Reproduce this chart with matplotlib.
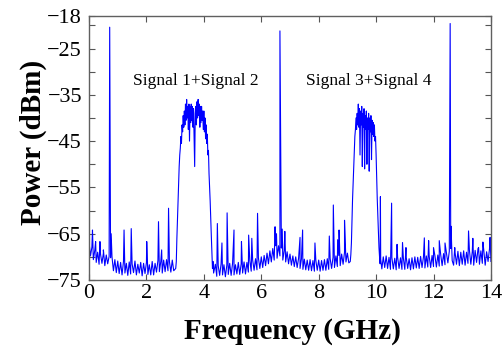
import numpy as np
import matplotlib
matplotlib.use("Agg")
import matplotlib.pyplot as plt

# ---------------- data ----------------
STEP_FLOOR = 0.05
STEP_SIG = 0.02

# noise floor segments (dBm), start frequency (GHz) and 0.05 GHz spacing
floor_a_start = 0.00
floor_a = [-66.8, -69.8, -67.9, -70.6, -68.6, -71.2, -69.0, -71.6, -69.4, -71.4,
           -69.2, -71.9, -69.6, -71.5, -69.9, -70.2, -70.0, -73.0, -70.6, -73.4,
           -70.9, -73.6, -71.2, -73.9, -71.0, -73.5, -71.4, -74.0, -71.1, -73.7,
           -71.5, -73.4, -70.9, -73.9, -71.6, -73.5, -71.2, -74.1, -71.4, -73.6,
           -71.2, -73.8, -71.7, -73.9, -71.0, -73.9, -71.4, -73.3, -70.8, -73.2,
           -71.0, -73.5, -70.7, -73.2, -70.6, -73.0, -71.0, -73.3, -70.7, -73.0]

floor_b_start = 4.40
floor_b = [-71.6, -74.2, -71.9, -74.0, -71.5, -73.9, -71.7, -74.3, -71.8, -73.8,
           -71.4, -74.0, -71.4, -73.9, -71.7, -73.7, -71.2, -73.8, -71.5, -73.5,
           -71.1, -73.7, -71.2, -73.3, -70.8, -73.1, -70.7, -72.9, -70.4, -72.8,
           -70.2, -72.5, -70.0, -72.3, -69.7, -71.9, -69.2, -71.5, -68.7, -71.1,
           -68.2, -70.7, -67.6, -70.3, -67.6, -69.8, -68.1, -70.7, -68.6, -71.1,
           -68.9, -71.5, -69.4, -71.8, -69.8, -72.1, -70.0, -72.3, -70.3, -72.5,
           -70.4, -72.7, -70.5, -72.8, -70.7, -72.9, -70.6, -73.0, -70.8, -73.1,
           -70.7, -72.9, -70.7, -73.1, -70.8, -72.9, -70.6, -72.9, -70.4, -72.7,
           -70.4, -72.5, -70.1, -72.3, -69.8, -72.1, -69.7, -71.9, -69.4, -71.6,
           -69.0, -71.1, -69.2, -71.3]

floor_c_start = 10.20
floor_c = [-72.6, -70.0, -72.3, -69.8, -72.5, -70.1, -72.7, -70.2, -72.6, -70.3,
           -72.8, -70.1, -72.5, -70.2, -72.7, -70.3, -72.7, -70.1, -72.5, -70.4,
           -72.8, -70.2, -72.6, -70.0, -72.4, -70.1, -72.5, -69.9, -72.3, -70.0,
           -72.4, -69.8, -72.2, -69.9, -72.3, -69.7, -72.1, -69.8, -72.2, -69.6,
           -72.0, -69.5, -71.9, -69.3, -71.7, -69.1, -71.3, -68.8, -68.2, -70.8,
           -71.8, -69.0, -71.6, -68.8, -71.9, -69.0, -71.6, -68.7, -71.8, -69.0,
           -71.4, -68.5, -71.6, -68.9, -71.8, -68.6, -71.2, -68.2, -71.6, -68.7,
           -71.4, -68.5, -71.8, -68.9, -71.0, -68.3, -71.0]

# Signal 1 + Signal 2 band, 0.02 GHz spacing
sig12_start = 3.02
sig12 = [-72.5, -71.0, -66.0, -62.0, -58.0, -54.0, -50.5, -48.0, -46.5, -44.0,
         -45.5, -41.5, -43.0, -39.5, -42.0, -38.5, -41.5, -37.0, -40.5, -36.0,
         -40.0, -37.5, -42.5, -37.0, -45.0, -37.5, -41.0, -37.0, -40.5, -37.5,
         -42.0, -38.0, -44.0, -50.5, -39.0, -37.5, -41.5, -36.5, -40.0, -36.0,
         -39.5, -37.0, -42.0, -37.5, -41.0, -37.5, -40.5, -38.5, -42.5, -38.5,
         -43.0, -40.0, -44.5, -41.5, -45.5, -43.5, -48.0, -47.0, -52.0, -55.0,
         -58.0, -62.0, -65.5, -69.0, -72.5, -71.0, -73.5]

# Signal 3 + Signal 4 band, 0.02 GHz spacing
sig34_start = 9.10
sig34 = [-71.0, -69.5, -67.0, -62.0, -57.5, -54.0, -50.0, -46.5, -44.0, -42.5,
         -40.0, -42.5, -39.0, -41.5, -37.0, -42.0, -38.0, -48.0, -38.5, -41.5,
         -37.5, -50.5, -39.0, -42.0, -38.0, -51.0, -39.5, -42.5, -38.5, -50.0,
         -40.0, -42.5, -39.0, -51.5, -40.0, -43.0, -39.5, -49.0, -40.5, -43.5,
         -41.0, -44.0, -41.5, -45.0, -44.0, -48.0, -53.0, -57.5, -61.0, -64.5,
         -68.0, -70.0, -71.5, -70.5]

# narrow spurs: frequency (GHz) and peak level (dBm)
spur_freq = [0.12, 0.23, 0.38, 0.50, 0.72, 0.77, 1.22, 1.47, 2.01, 2.42, 2.53, 2.77,
             4.47, 4.63, 4.81, 5.05, 5.31, 5.56, 5.67, 5.87, 6.48, 6.53, 6.65, 6.73,
             6.82, 7.35, 7.44, 7.87, 8.37, 8.51, 8.66, 8.71, 8.90, 10.15, 10.54,
             10.73, 10.92, 11.04, 11.68, 11.83, 12.00, 12.20, 12.40, 12.58, 12.61,
             12.74, 13.22, 13.37, 13.57, 13.72, 13.97]
spur_peak = [-64.2, -66.7, -66.7, -68.5, -20.4, -65.0, -64.2, -63.9, -66.7, -62.4, -68.5, -59.5,
             -62.8, -67.0, -60.5, -64.2, -66.7, -65.3, -66.0, -60.6, -63.5, -65.0, -21.2, -64.0,
             -64.5, -65.8, -64.2, -67.0, -65.5, -58.8, -66.3, -64.2, -62.1, -57.0, -58.4,
             -67.3, -66.9, -68.0, -65.9, -66.5, -68.0, -66.5, -67.0, -19.6, -63.4,
             -68.0, -64.4, -66.0, -68.0, -66.8, -65.8]

x_ticks = [0, 2, 4, 6, 8, 10, 12, 14]
y_ticks = [-75, -65, -55, -45, -35, -25, -18]
y_minor = [-70, -60, -50, -40, -30, -20]
x_label = "Frequency (GHz)"
y_label = "Power (dBm)"
ann_text = ["Signal 1+Signal 2", "Signal 3+Signal 4"]
ann_freq = [3.72, 9.74]
ann_level = [-32.9, -32.9]

# ---------------- assemble the trace ----------------
def seg(start, step, vals):
    return start + step * np.arange(len(vals)), np.asarray(vals, dtype=float)

parts = [seg(floor_a_start, STEP_FLOOR, floor_a),
         seg(sig12_start, STEP_SIG, sig12),
         seg(floor_b_start, STEP_FLOOR, floor_b),
         seg(sig34_start, STEP_SIG, sig34),
         seg(floor_c_start, STEP_FLOOR, floor_c),
         (np.asarray(spur_freq), np.asarray(spur_peak))]
f = np.concatenate([p[0] for p in parts])
p = np.concatenate([p[1] for p in parts])
order = np.argsort(f, kind="stable")
f, p = f[order], p[order]

# ---------------- plot ----------------
plt.rcParams["font.family"] = ["Liberation Serif", "DejaVu Serif"]
fig = plt.figure(figsize=(5.03, 3.5), dpi=100)
ax = fig.add_axes([0.177, 0.2, 0.799, 0.754])
ax.plot(f, p, color="#0000ff", lw=0.8)

ax.set_xlim(0, 14)
ax.set_ylim(-75, -18)
ax.set_xticks(x_ticks)
ax.set_yticks(y_ticks)
ax.set_yticks(y_minor, minor=True)
ax.tick_params(axis="both", which="both", direction="in", top=True, right=True,
               length=4, width=0.8, color="#555555", labelsize=16)
ax.tick_params(axis="x", pad=3)
ax.tick_params(axis="y", pad=5)
for s in ax.spines.values():
    s.set_color("#606060")
    s.set_linewidth(1.0)

ax.set_xlabel(x_label, fontsize=21, fontweight="bold")
ax.set_ylabel(y_label, fontsize=21, fontweight="bold")
ax.xaxis.label.set_va("center")
ax.yaxis.label.set_va("center")
ax.xaxis.set_label_coords(0.506, -0.197)
ax.yaxis.set_label_coords(-0.138, 0.521)

for t, fx, lv in zip(ann_text, ann_freq, ann_level):
    ax.text(fx, lv, t, ha="center", va="baseline", fontsize=12.5)

fig.savefig("out.png", dpi=100)
